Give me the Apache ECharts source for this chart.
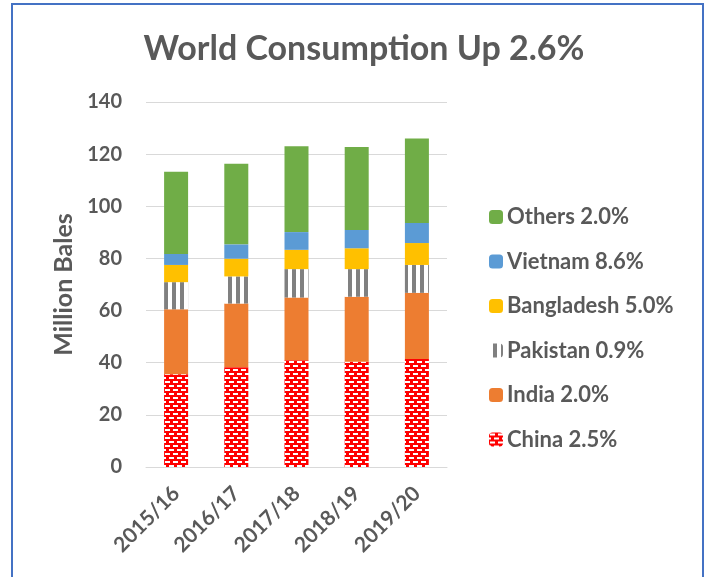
<!DOCTYPE html>
<html>
<head>
    <meta charset="utf-8" />
    <title>World Consumption Up 2.6%</title>
    <script src="https://cdn.jsdelivr.net/npm/echarts@6/dist/echarts.min.js"></script>
    <style>
        html, body { margin: 0; padding: 0; background: #fff; }
    </style>
</head>
<body>
    <div id="main" style="width: 710px;height:577px;"></div>
    <script type="text/javascript">
        // data (million bales)
        var years = ['2015/16', '2016/17', '2017/18', '2018/19', '2019/20'];
        var seriesNames = ['China 2.5%', 'India 2.0%', 'Pakistan 0.9%', 'Bangladesh 5.0%', 'Vietnam 8.6%', 'Others 2.0%'];
        var china = [35.6, 38.3, 40.9, 40.4, 41.4];
        var india = [24.9, 24.4, 24.1, 24.9, 25.4];
        var pakistan = [10.4, 10.4, 10.9, 10.6, 10.7];
        var bangladesh = [6.6, 6.8, 7.4, 8.0, 8.4];
        var vietnam = [4.2, 5.5, 6.8, 7.0, 7.7];
        var others = [31.5, 30.9, 32.9, 31.8, 32.4];
        var yTicks = [0, 20, 40, 60, 80, 100, 120, 140];

        var textColor = '#595959';
        var fontName = 'Lato';

        // red brick pattern for China
        function brickPattern() {
            var c = document.createElement('canvas');
            c.width = 8; c.height = 8;
            var ctx = c.getContext('2d');
            ctx.fillStyle = '#ff0000';
            ctx.fillRect(0, 0, 8, 8);
            ctx.fillStyle = '#ffffff';
            ctx.fillRect(1, 1, 5, 2);
            ctx.fillRect(5, 5, 5, 2);
            ctx.fillRect(-3, 5, 5, 2);
            return { image: c, repeat: 'repeat' };
        }
        // grey vertical stripes for Pakistan
        function stripePattern() {
            var c = document.createElement('canvas');
            c.width = 8; c.height = 8;
            var ctx = c.getContext('2d');
            ctx.fillStyle = '#ffffff';
            ctx.fillRect(0, 0, 8, 8);
            ctx.fillStyle = '#808080';
            ctx.fillRect(4, 0, 4, 8);
            return { image: c, repeat: 'repeat' };
        }

        var colors = [brickPattern(), '#ed7d31', stripePattern(), '#ffc000', '#5b9bd5', '#70ad47'];
        var values = [china, india, pakistan, bangladesh, vietnam, others];

        var series = [];
        for (var i = 0; i < seriesNames.length; i++) {
            series.push({
                name: seriesNames[i],
                type: 'bar',
                stack: 'total',
                barWidth: 24,
                data: values[i],
                itemStyle: { color: colors[i] }
            });
        }

        var myChart = echarts.init(document.getElementById('main'));
        var option = {
            animation: false,
            backgroundColor: '#fff',
            title: {
                text: 'World Consumption Up 2.6%',
                left: 359,
                top: 27,
                textAlign: 'center',
                textStyle: { fontFamily: fontName, fontSize: 34, fontWeight: 'bold', color: textColor }
            },
            graphic: [{
                // outer chart border
                type: 'rect',
                shape: { x: 12, y: 4, width: 691, height: 620 },
                style: { fill: 'none', stroke: '#4472c4', lineWidth: 2 },
                silent: true
            }],
            legend: {
                orient: 'vertical',
                left: 489,
                top: 206,
                padding: 0,
                itemWidth: 14,
                itemHeight: 14,
                itemGap: 22.5,
                data: seriesNames.slice().reverse(),
                textStyle: { fontFamily: fontName, fontSize: 22, fontWeight: 'bold', color: textColor, padding: [0, 0, 0, -1] }
            },
            grid: { left: 146, right: 263, top: 102, bottom: 110 },
            xAxis: {
                type: 'category',
                data: years,
                axisTick: { show: false },
                axisLine: { lineStyle: { color: '#d9d9d9', width: 1 } },
                axisLabel: { rotate: 45, margin: 23, fontFamily: fontName, fontSize: 21, fontWeight: 'bold', color: textColor }
            },
            yAxis: {
                type: 'value',
                min: yTicks[0],
                max: yTicks[yTicks.length - 1],
                interval: 20,
                name: 'Million Bales',
                nameLocation: 'middle',
                nameGap: 70,
                nameTextStyle: { fontFamily: fontName, fontSize: 25, fontWeight: 'bold', color: textColor },
                axisLine: { show: false },
                axisTick: { show: false },
                axisLabel: { margin: 24, fontFamily: fontName, fontSize: 20, fontWeight: 'bold', color: textColor },
                splitLine: { lineStyle: { color: '#d9d9d9', width: 1 } }
            },
            series: series
        };
        myChart.setOption(option);
    </script>
</body>
</html>
